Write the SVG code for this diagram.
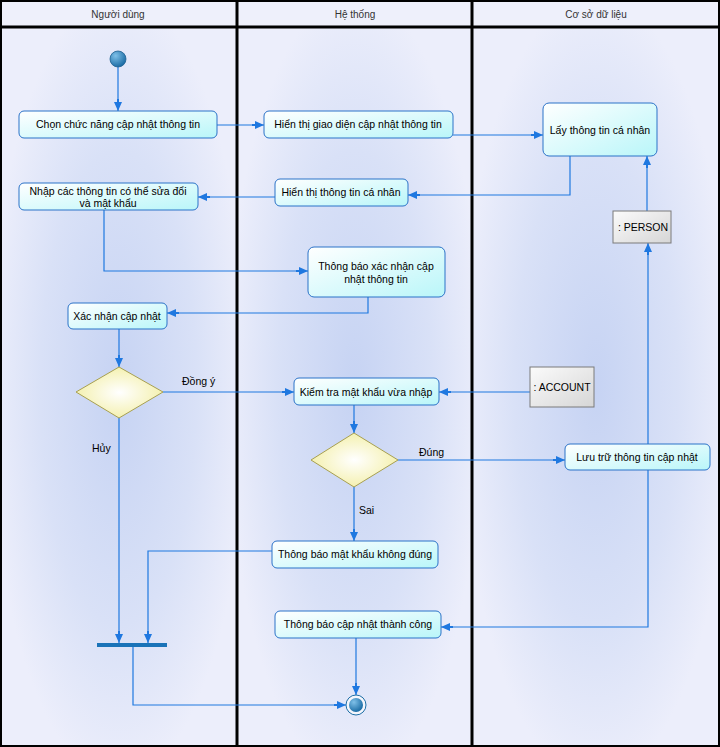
<svg xmlns="http://www.w3.org/2000/svg" width="720" height="747" viewBox="0 0 720 747">
  <defs>
    <radialGradient id="laneBg" cx="50%" cy="50%" r="55%">
      <stop offset="0" stop-color="#c6d3f3"/>
      <stop offset="0.6" stop-color="#d9e1f7"/>
      <stop offset="1" stop-color="#eceefb"/>
    </radialGradient>
    <linearGradient id="actFill" x1="0" y1="0" x2="1" y2="1">
      <stop offset="0" stop-color="#ffffff"/>
      <stop offset="1" stop-color="#b9f6f9"/>
    </linearGradient>
    <linearGradient id="objFill" x1="0" y1="0" x2="1" y2="1">
      <stop offset="0" stop-color="#fbfbfb"/>
      <stop offset="1" stop-color="#d6d6d6"/>
    </linearGradient>
    <radialGradient id="decFill" cx="50%" cy="50%" r="55%">
      <stop offset="0" stop-color="#ffffff"/>
      <stop offset="1" stop-color="#f3efa8"/>
    </radialGradient>
    <radialGradient id="ballFill" cx="35%" cy="30%" r="70%">
      <stop offset="0" stop-color="#7fc0e8"/>
      <stop offset="1" stop-color="#1d6ea6"/>
    </radialGradient>
    <marker id="arr" viewBox="0 0 12 10" refX="12" refY="5" markerWidth="12" markerHeight="10" markerUnits="userSpaceOnUse" orient="auto">
      <path d="M0,4 L3,4 L3,1 L12,5 L3,9 L3,6 L0,6 Z" fill="#1f78e0"/>
    </marker>
    <style>
      .lane { fill: url(#laneBg); }
      .head { fill: #eef0fb; }
      .divider { stroke: #000; stroke-width: 3; }
      .act { fill: url(#actFill); stroke: #2a72c8; stroke-width: 1; }
      .obj { fill: url(#objFill); stroke: #7a7a7a; stroke-width: 1; }
      .dec { fill: url(#decFill); stroke: #a8a050; stroke-width: 1; }
      .edge { fill: none; stroke: #1f78e0; stroke-width: 1.2; marker-end: url(#arr); }
      text { font-family: "Liberation Sans", Arial, sans-serif; font-size: 10.5px; fill: #000; }
      .hd { font-size: 10px; fill: #333; }
      .c { text-anchor: middle; }
    </style>
  </defs>

  <!-- swimlanes -->
  <g id="lanes">
    <rect class="lane" x="0" y="28" width="237" height="719"/>
    <rect class="lane" x="237" y="28" width="235" height="719"/>
    <rect class="lane" x="472" y="28" width="248" height="719"/>
    <rect class="head" x="0" y="0" width="720" height="28"/>
    <text class="hd c" x="118" y="18">Người dùng</text>
    <text class="hd c" x="355" y="18">Hệ thống</text>
    <text class="hd c" x="596" y="18">Cơ sở dữ liệu</text>
    <rect x="1" y="1" width="718" height="745" fill="none" stroke="#000" stroke-width="2"/>
    <line class="divider" x1="0" y1="27" x2="720" y2="27"/>
    <line class="divider" x1="237" y1="0" x2="237" y2="747"/>
    <line class="divider" x1="472" y1="0" x2="472" y2="747"/>
  </g>

  <!-- connectors -->
  <g id="connectors">
    <path class="edge" d="M118,67 V111"/>
    <path class="edge" d="M217,125 H264"/>
    <path class="edge" d="M453,135 H543"/>
    <path class="edge" d="M570,156 V195 H408"/>
    <path class="edge" d="M275,197 H198"/>
    <path class="edge" d="M104,210 V271 H308"/>
    <path class="edge" d="M368,297 V313 H167"/>
    <path class="edge" d="M119,329 V367"/>
    <path class="edge" d="M163,392 H294"/>
    <path class="edge" d="M530,392 H439"/>
    <path class="edge" d="M354,405 V433"/>
    <path class="edge" d="M398,460 H565"/>
    <path class="edge" d="M648,444 V243"/>
    <path class="edge" d="M647,211 V156"/>
    <path class="edge" d="M648,470 V627 H441"/>
    <path class="edge" d="M354,487 V541"/>
    <path class="edge" d="M272,551 H148 V643"/>
    <path class="edge" d="M119,418 V643"/>
    <path class="edge" d="M356,638 V695"/>
    <path class="edge" d="M133,647 V705 H346"/>
    <text x="182" y="385">Đồng ý</text>
    <text x="92" y="452">Hủy</text>
    <text x="419" y="456">Đúng</text>
    <text x="359" y="514">Sai</text>
  </g>

  <!-- nodes -->
  <g id="start"><circle cx="118" cy="59" r="8" fill="url(#ballFill)" stroke="#1d5f90" stroke-width="0.8"/></g>

  <g id="chon_chuc_nang">
    <rect class="act" x="19" y="111" width="198" height="27" rx="5"/>
    <text class="c" x="118" y="128">Chọn chức năng cập nhật thông tin</text>
  </g>
  <g id="hien_thi_giao_dien">
    <rect class="act" x="264" y="111" width="189" height="27" rx="5"/>
    <text class="c" x="358" y="128">Hiển thị giao diện cập nhật thông tin</text>
  </g>
  <g id="lay_thong_tin">
    <rect class="act" x="543" y="103" width="114" height="53" rx="6"/>
    <text class="c" x="600" y="134">Lấy thông tin cá nhân</text>
  </g>
  <g id="hien_thi_thong_tin">
    <rect class="act" x="275" y="179" width="133" height="27" rx="5"/>
    <text class="c" x="341" y="196">Hiển thị thông tin cá nhân</text>
  </g>
  <g id="nhap_thong_tin">
    <rect class="act" x="19" y="183" width="179" height="27" rx="5"/>
    <text class="c" x="108" y="195">Nhập các thông tin có thể sửa đổi</text>
    <text class="c" x="108" y="207">và mật khẩu</text>
  </g>
  <g id="person">
    <rect class="obj" x="613" y="211" width="58" height="32"/>
    <text class="c" x="643" y="231">: PERSON</text>
  </g>
  <g id="thong_bao_xac_nhan">
    <rect class="act" x="308" y="247" width="137" height="50" rx="6"/>
    <text class="c" x="376" y="270">Thông báo xác nhận cập</text>
    <text class="c" x="376" y="283">nhật thông tin</text>
  </g>
  <g id="xac_nhan">
    <rect class="act" x="68" y="303" width="99" height="26" rx="5"/>
    <text class="c" x="117" y="320">Xác nhận cập nhật</text>
  </g>
  <g id="quyet_dinh_1">
    <polygon class="dec" points="119,367 163,392 119,418 76,392"/>
  </g>
  <g id="kiem_tra">
    <rect class="act" x="294" y="378" width="145" height="27" rx="5"/>
    <text class="c" x="366" y="396">Kiểm tra mật khẩu vừa nhập</text>
  </g>
  <g id="account">
    <rect class="obj" x="530" y="367" width="64" height="40"/>
    <text class="c" x="562" y="391">: ACCOUNT</text>
  </g>
  <g id="quyet_dinh_2">
    <polygon class="dec" points="354,433 398,460 354,487 311,460"/>
  </g>
  <g id="luu_tru">
    <rect class="act" x="565" y="444" width="145" height="26" rx="5"/>
    <text class="c" x="637" y="461">Lưu trữ thông tin cập nhật</text>
  </g>
  <g id="sai_mat_khau">
    <rect class="act" x="272" y="541" width="166" height="27" rx="5"/>
    <text class="c" x="355" y="558">Thông báo mật khẩu không đúng</text>
  </g>
  <g id="thanh_cong">
    <rect class="act" x="275" y="611" width="166" height="27" rx="5"/>
    <text class="c" x="358" y="628">Thông báo cập nhật thành công</text>
  </g>
  <g id="join"><rect x="97" y="643" width="70" height="4" fill="#1a73b8"/></g>
  <g id="end">
    <circle cx="356" cy="705" r="10" fill="#f4f6fc" stroke="#1d6ea6" stroke-width="1"/>
    <circle cx="356" cy="705" r="7" fill="url(#ballFill)"/>
  </g>
</svg>
